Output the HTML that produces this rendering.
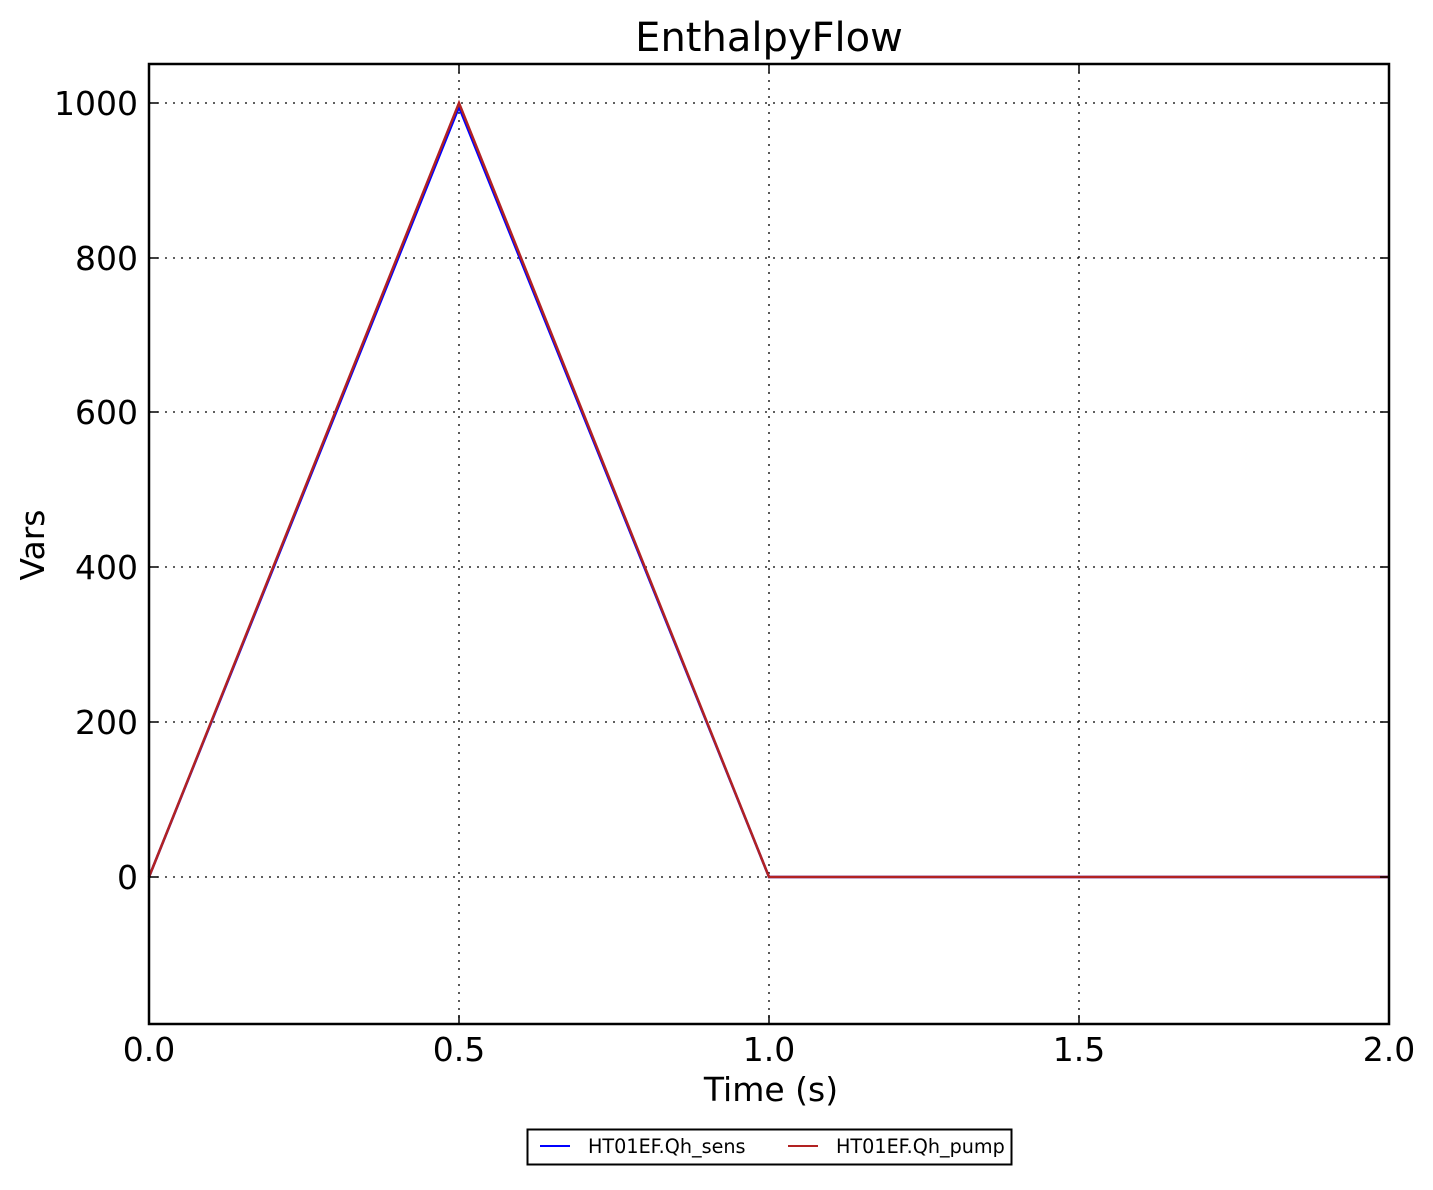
<!DOCTYPE html>
<html><head><meta charset="utf-8"><style>
html,body{margin:0;padding:0;background:#fff;}
svg text{font-family:"DejaVu Sans","Liberation Sans",sans-serif;fill:#000;}
</style></head><body>
<svg width="1433" height="1185" xmlns="http://www.w3.org/2000/svg">
<rect width="1433" height="1185" fill="#fff"/>
<g stroke="#000" stroke-width="1.3" stroke-dasharray="2,6">
<line x1="459" y1="64" x2="459" y2="1024"/>
<line x1="769" y1="64" x2="769" y2="1024"/>
<line x1="1079" y1="64" x2="1079" y2="1024"/>
<line x1="149" y1="103" x2="1389" y2="103"/>
<line x1="149" y1="258" x2="1389" y2="258"/>
<line x1="149" y1="412" x2="1389" y2="412"/>
<line x1="149" y1="567" x2="1389" y2="567"/>
<line x1="149" y1="722" x2="1389" y2="722"/>
<line x1="149" y1="877" x2="1389" y2="877"/>
</g>
<polyline points="149,877 459,107 769,877 1389,877" fill="none" stroke="#0000ff" stroke-width="2.5"/>
<polyline points="149,877 459,103 769,877 1389,877" fill="none" stroke="#b22222" stroke-width="2.5"/>
<g stroke="#000" stroke-width="1.5">
<line x1="459" y1="64" x2="459" y2="73"/><line x1="459" y1="1024" x2="459" y2="1015"/>
<line x1="769" y1="64" x2="769" y2="73"/><line x1="769" y1="1024" x2="769" y2="1015"/>
<line x1="1079" y1="64" x2="1079" y2="73"/><line x1="1079" y1="1024" x2="1079" y2="1015"/>
<line x1="149" y1="103" x2="158" y2="103"/><line x1="1389" y1="103" x2="1380" y2="103"/>
<line x1="149" y1="258" x2="158" y2="258"/><line x1="1389" y1="258" x2="1380" y2="258"/>
<line x1="149" y1="412" x2="158" y2="412"/><line x1="1389" y1="412" x2="1380" y2="412"/>
<line x1="149" y1="567" x2="158" y2="567"/><line x1="1389" y1="567" x2="1380" y2="567"/>
<line x1="149" y1="722" x2="158" y2="722"/><line x1="1389" y1="722" x2="1380" y2="722"/>
<line x1="149" y1="877" x2="158" y2="877"/><line x1="1389" y1="877" x2="1380" y2="877"/>
</g>
<rect x="149" y="64" width="1240" height="960" fill="none" stroke="#000" stroke-width="2.5"/>
<text x="769" y="51" font-size="40" text-anchor="middle">EnthalpyFlow</text>
<g font-size="33" text-anchor="middle">
<text x="149" y="1061">0.0</text><text x="459" y="1061">0.5</text><text x="769" y="1061">1.0</text><text x="1079" y="1061">1.5</text><text x="1389" y="1061">2.0</text>
</g>
<g font-size="33" text-anchor="end">
<text x="138" y="115">1000</text><text x="138" y="270">800</text><text x="138" y="424">600</text><text x="138" y="579">400</text><text x="138" y="734">200</text><text x="138" y="889">0</text>
</g>
<text x="771" y="1101" font-size="33" text-anchor="middle">Time (s)</text>
<text transform="translate(44,545) rotate(-90)" font-size="33" text-anchor="middle">Vars</text>
<rect x="527.5" y="1129.5" width="484" height="35" fill="#fff" stroke="#000" stroke-width="2"/>
<line x1="540" y1="1146" x2="570" y2="1146" stroke="#0000ff" stroke-width="2"/>
<line x1="788" y1="1146" x2="818" y2="1146" stroke="#b22222" stroke-width="2"/>
<text x="588" y="1153" font-size="19.2">HT01EF.Qh_sens</text>
<text x="836" y="1153" font-size="19.2">HT01EF.Qh_pump</text>
</svg>
</body></html>
